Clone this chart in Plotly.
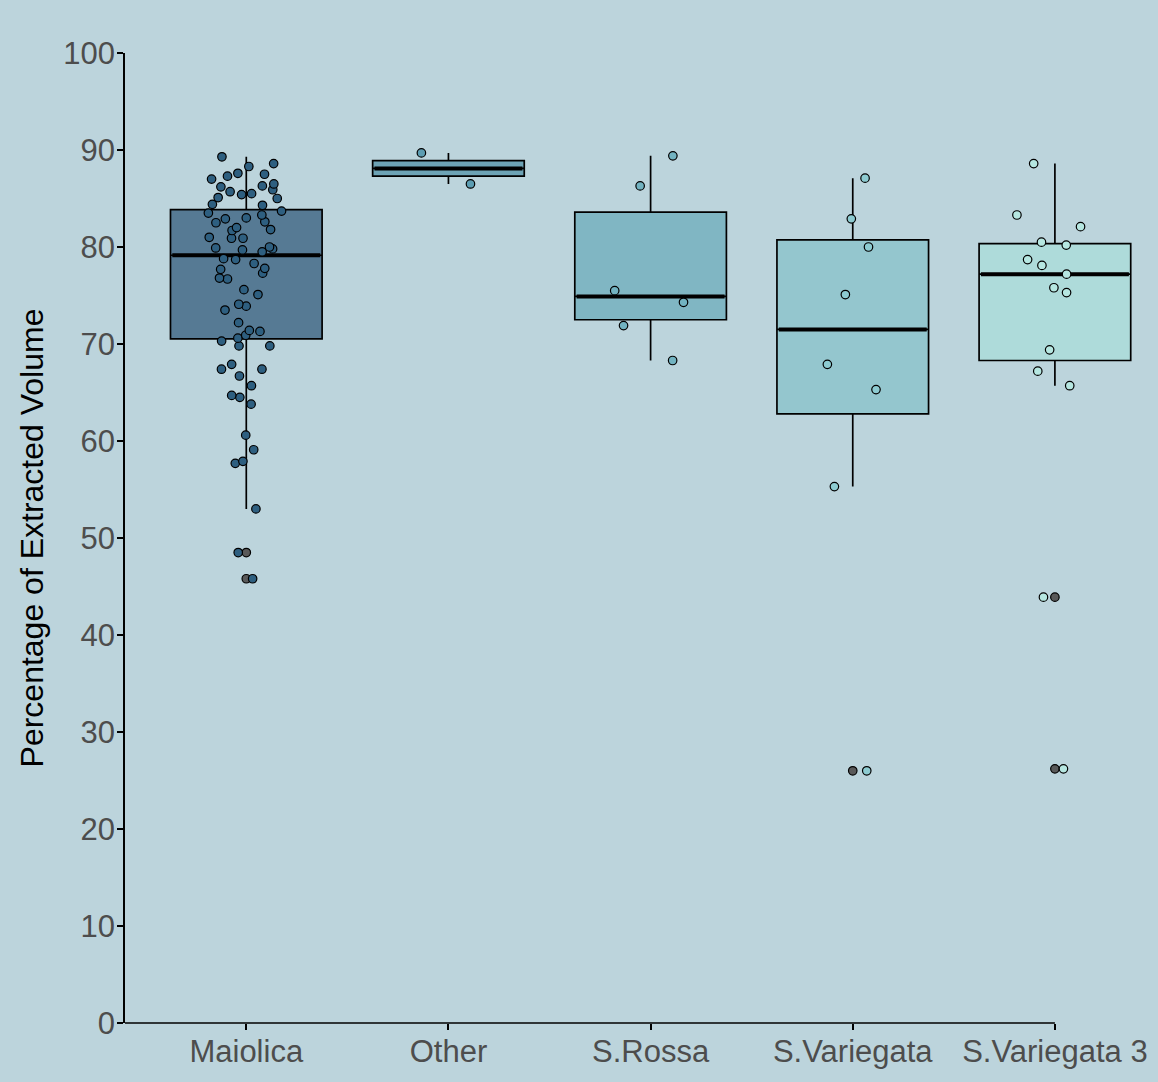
import numpy as np
import plotly.graph_objects as go

categories = ["Maiolica", "Other", "S.Rossa", "S.Variegata", "S.Variegata 3"]

maiolica = [89.3, 88.6, 88.3, 87.6, 87.5, 87.3, 87.0, 86.5, 86.3, 86.2, 85.9, 85.7,
            85.5, 85.4, 85.1, 85.0, 84.4, 84.3, 83.7, 83.5, 83.3, 83.0, 82.9, 82.6,
            82.5, 82.0, 81.8, 81.7, 81.0, 80.9, 80.9, 80.0, 79.9, 79.8, 79.7, 79.5,
            78.8, 78.7, 78.3, 77.8, 77.7, 77.3, 76.8, 76.7, 75.6, 75.1, 74.1, 73.9,
            73.5, 72.2, 71.4, 71.3, 70.9, 70.6, 70.3, 69.8, 69.8, 67.9, 67.4, 67.4,
            66.7, 65.7, 64.7, 64.5, 63.8, 60.6, 59.1, 57.9, 57.7, 53.0, 48.5, 45.8]
other = [89.7, 86.5]
s_rossa = [89.4, 86.3, 75.5, 74.3, 71.9, 68.3]
s_variegata = [87.1, 82.9, 80.0, 75.1, 67.9, 65.3, 55.3, 26.0]
s_variegata_3 = [88.6, 83.3, 82.1, 80.5, 80.2, 78.7, 78.1, 77.2, 75.8, 75.3,
                 69.4, 67.2, 65.7, 43.9, 26.2]

groups = [maiolica, other, s_rossa, s_variegata, s_variegata_3]
y_ticks = list(range(0, 101, 10))

box_colors = ["#567A94", "#6DA3B5", "#80B6C3", "#94C6CE", "#AEDBDA"]
point_colors = ["#2E5F80", "#5C9DB2", "#72B3C1", "#8DCBD1", "#B6E7E1"]
outlier_color = "#595959"
bg = "#BCD4DC"
FONT = "Liberation Sans, Arial, Helvetica, sans-serif"


def box_stats(values):
    a = np.sort(np.asarray(values, dtype=float))
    q1, med, q3 = np.percentile(a, [25, 50, 75])
    iqr = q3 - q1
    lo_lim, hi_lim = q1 - 1.5 * iqr, q3 + 1.5 * iqr
    inside = a[(a >= lo_lim) & (a <= hi_lim)]
    outl = a[(a < lo_lim) | (a > hi_lim)]
    return q1, med, q3, inside.min(), inside.max(), outl


fig = go.Figure()
BW = 0.75
clear = "rgba(0,0,0,0)"

for i, vals in enumerate(groups):
    q1, med, q3, lo, hi, outl = box_stats(vals)
    # main box
    fig.add_trace(go.Box(
        x=[i], q1=[q1], median=[med], q3=[q3], lowerfence=[lo], upperfence=[hi],
        width=BW, fillcolor=box_colors[i], line=dict(color="black", width=1.7),
        whiskerwidth=0, boxpoints=False, hoverinfo="skip", showlegend=False))
    # thick median line
    fig.add_trace(go.Box(
        x=[i], q1=[med], median=[med], q3=[med], lowerfence=[med], upperfence=[med],
        width=BW - 0.018, fillcolor=clear, line=dict(color="black", width=4),
        whiskerwidth=0, boxpoints=False, hoverinfo="skip", showlegend=False))
    # outliers (at centre)
    if len(outl):
        fig.add_trace(go.Box(
            x=[i] * len(outl), y=list(outl), width=BW, boxpoints="all", jitter=0,
            pointpos=0, fillcolor=clear, line=dict(color=clear, width=0),
            marker=dict(color=outlier_color, size=8.5, line=dict(color="black", width=1.2)),
            hoverinfo="y", showlegend=False))
    # jittered points
    fig.add_trace(go.Box(
        x=[i] * len(vals), y=vals, width=BW, boxpoints="all", jitter=0.56,
        pointpos=0, fillcolor=clear, line=dict(color=clear, width=0),
        marker=dict(color=point_colors[i], size=8.5, line=dict(color="black", width=1.2)),
        hoverinfo="y", showlegend=False))

fig.add_shape(type="line", xref="x", yref="paper", x0=-0.6, x1=len(categories) - 1,
              y0=0, y1=0, line=dict(color="black", width=1.6))

fig.update_layout(
    width=1158, height=1082, paper_bgcolor=bg, plot_bgcolor=bg,
    showlegend=False, boxmode="overlay",
    margin=dict(l=125, r=0, t=53, b=59),
    font=dict(family=FONT),
)
fig.update_xaxes(
    range=[-0.6, 4.51], tickmode="array", tickvals=list(range(len(categories))),
    ticktext=categories, ticks="outside", ticklen=6, tickwidth=1.5, tickcolor="black",
    showgrid=False, zeroline=False, showline=False, ticklabelstandoff=-5,
    tickfont=dict(size=31, color="#4D4D4D", family=FONT))
fig.update_yaxes(
    range=[0, 100], tickmode="array", tickvals=y_ticks, ticks="outside", ticklen=6,
    tickwidth=1.5, tickcolor="black", showline=True, linecolor="black", linewidth=1.6,
    showgrid=False, zeroline=False, ticklabelstandoff=-4,
    tickfont=dict(size=31, color="#4D4D4D", family=FONT),
    title=dict(text="Percentage of Extracted Volume",
               font=dict(size=32, color="black", family=FONT), standoff=10))

fig.write_html(
    "out.html",
    config={"displayModeBar": False},
    post_script="document.body.style.margin='0';document.body.style.background='%s';" % bg,
)
